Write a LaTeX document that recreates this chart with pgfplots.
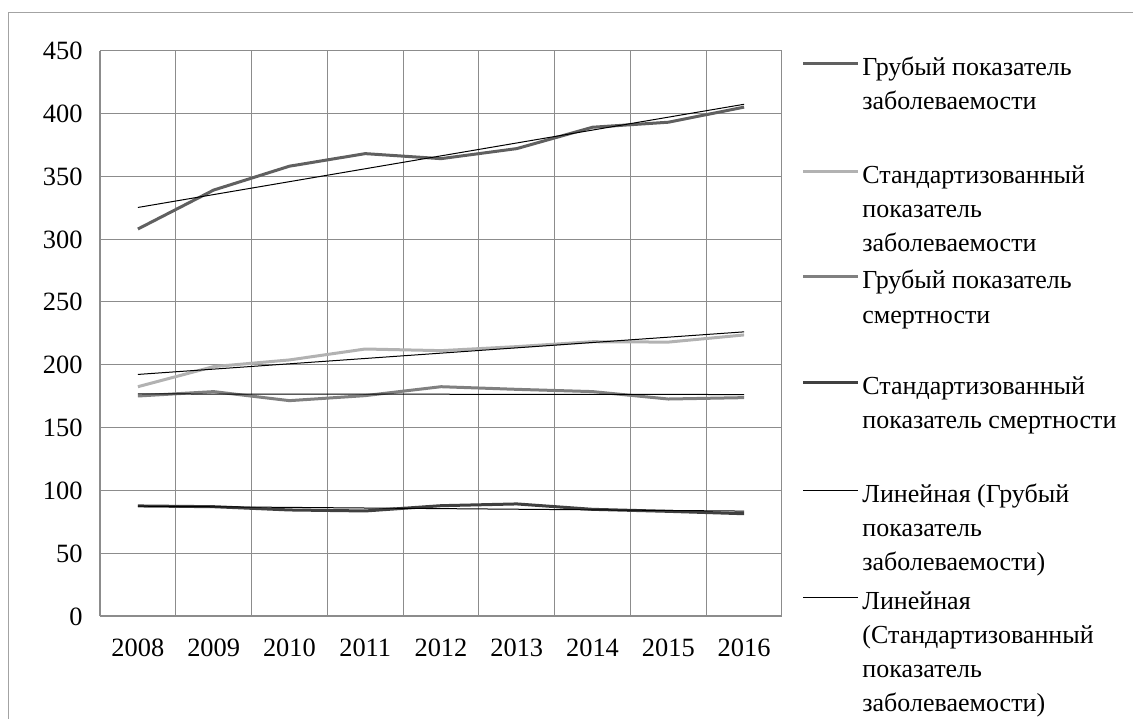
\documentclass[border=0pt]{standalone}
\usepackage{fontspec}
\setmainfont{Liberation Serif}
\usepackage{pgfplots}
\usepackage{pgfplotstable}
\pgfplotsset{compat=1.18}

\definecolor{sA}{HTML}{606060}
\definecolor{sB}{HTML}{B2B2B2}
\definecolor{sC}{HTML}{808080}
\definecolor{sD}{HTML}{404040}
\definecolor{gridc}{HTML}{8C8C8C}

% year index, crude incidence, std incidence, crude mortality, std mortality
\pgfplotstableread{
x a b c d
0 308 182.5 175.1 87.6
1 339 198.5 178.6 87.0
2 358 203.8 171.4 84.4
3 368 212.5 175.4 83.6
4 364 211.2 182.5 87.8
5 372 214.4 180.4 89.2
6 389 218.3 178.6 84.9
7 393 218.0 172.7 83.3
8 405 223.7 173.8 81.4
}\data

\newcommand\leg[1]{\vtop{\baselineskip=17pt\halign{##\hfil\cr #1\cr}}}
\newcommand\legfont{\fontsize{13}{17}\selectfont}

\begin{document}
\begin{tikzpicture}
\begin{axis}[
  at={(0,0)}, anchor=south west,
  scale only axis, width=341pt, height=282.7pt,
  xmin=-0.5, xmax=8.5, ymin=0, ymax=450,
  xtick={0,...,8},
  xticklabels={2008,2009,2010,2011,2012,2013,2014,2015,2016},
  minor xtick={-0.5,0.5,...,8.5},
  ytick={0,50,...,450},
  xminorgrids, ymajorgrids,
  minor grid style={gridc, line width=0.5pt},
  major grid style={gridc, line width=0.5pt},
  major tick length=0pt, minor tick length=0pt,
  axis x line*=bottom, axis y line*=left,
  axis line style={gridc, line width=1pt, -},
  /pgf/number format/assume math mode=true,
  tick label style={font=\fontsize{13.2}{16}\selectfont, inner sep=0pt},
  xticklabel style={anchor=base, yshift=-20pt},
  yticklabel style={anchor=base east, xshift=-8.5pt, yshift=-4.5pt},
  clip=false,
]
\addplot[sA, line width=1.5pt] table[x=x, y=a] {\data};
\addplot[sB, line width=1.5pt] table[x=x, y=b] {\data};
\addplot[sC, line width=1.5pt] table[x=x, y=c] {\data};
\addplot[sD, line width=1.5pt] table[x=x, y=d] {\data};
\addplot[black, line width=0.5pt] table[x=x, y={create col/linear regression={y=a}}] {\data};
\addplot[black, line width=0.5pt] table[x=x, y={create col/linear regression={y=b}}] {\data};
\addplot[black, line width=0.5pt] table[x=x, y={create col/linear regression={y=c}}] {\data};
\addplot[black, line width=0.5pt] table[x=x, y={create col/linear regression={y=d}}] {\data};
\end{axis}

% legend
\draw[sA, line width=1.5pt] (351.5pt,276pt) -- (379pt,276pt);
\node[anchor=base west, inner sep=0pt, font=\legfont] at (381pt,270pt) {\leg{Грубый показатель\cr заболеваемости}};
\draw[sB, line width=1.5pt] (351.5pt,222pt) -- (379pt,222pt);
\node[anchor=base west, inner sep=0pt, font=\legfont] at (381pt,216pt) {\leg{Стандартизованный\cr показатель\cr заболеваемости}};
\draw[sC, line width=1.5pt] (351.5pt,169.5pt) -- (379pt,169.5pt);
\node[anchor=base west, inner sep=0pt, font=\legfont] at (381pt,163.5pt) {\leg{Грубый показатель\cr смертности}};
\draw[sD, line width=1.5pt] (351.5pt,117pt) -- (379pt,117pt);
\node[anchor=base west, inner sep=0pt, font=\legfont] at (381pt,111pt) {\leg{Стандартизованный\cr показатель смертности}};
\draw[black, line width=0.5pt] (351.5pt,63pt) -- (379pt,63pt);
\node[anchor=base west, inner sep=0pt, font=\legfont] at (381pt,57pt) {\leg{Линейная (Грубый\cr показатель\cr заболеваемости)}};
\draw[black, line width=0.5pt] (351.5pt,9.5pt) -- (379pt,9.5pt);
\node[anchor=base west, inner sep=0pt, font=\legfont] at (381pt,3.5pt) {\leg{Линейная\cr (Стандартизованный\cr показатель\cr заболеваемости)}};

% chart area border (right and bottom edges fall outside the picture)
\draw[gridc!80, line width=0.5pt] (-45.5pt,-60pt) -- (-45.5pt,301.5pt) -- (530pt,301.5pt);
\pgfresetboundingbox
\path (-50pt,-51pt) rectangle (516.5pt,308pt);
\end{tikzpicture}
\end{document}
